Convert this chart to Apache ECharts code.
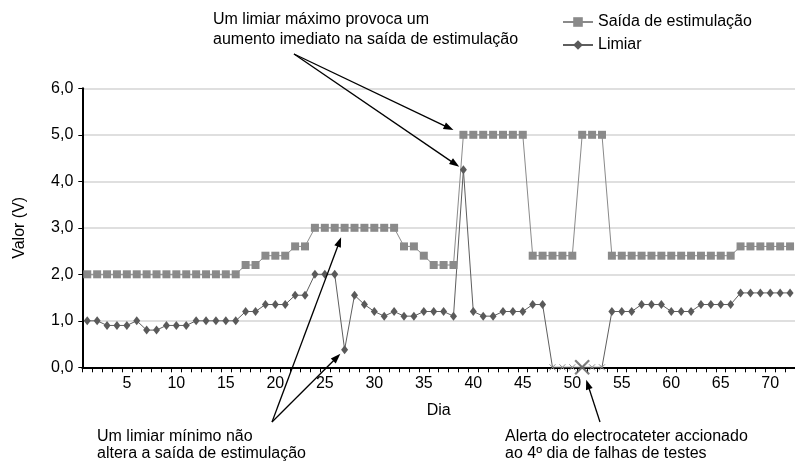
<!DOCTYPE html>
<html>
<head>
<meta charset="utf-8">
<script src="https://cdn.jsdelivr.net/npm/echarts@6/dist/echarts.min.js"></script>
<style>
  html, body { margin: 0; padding: 0; background: #ffffff; }
  #chart { width: 795px; height: 461px; }
</style>
</head>
<body>
<div id="chart"></div>
<script>
// Days of monitoring (category axis)
const days = ['1','2','3','4','5','6','7','8','9','10','11','12','13','14','15','16','17','18','19','20',
  '21','22','23','24','25','26','27','28','29','30','31','32','33','34','35','36','37','38','39','40',
  '41','42','43','44','45','46','47','48','49','50','51','52','53','54','55','56','57','58','59','60',
  '61','62','63','64','65','66','67','68','69','70','71','72'];

// Stimulation output (V)
const saida = [2.0,2.0,2.0,2.0,2.0,2.0,2.0,2.0,2.0,2.0,2.0,2.0,2.0,2.0,2.0,2.0,2.2,2.2,2.4,2.4,
  2.4,2.6,2.6,3.0,3.0,3.0,3.0,3.0,3.0,3.0,3.0,3.0,2.6,2.6,2.4,2.2,2.2,2.2,5.0,5.0,
  5.0,5.0,5.0,5.0,5.0,2.4,2.4,2.4,2.4,2.4,5.0,5.0,5.0,2.4,2.4,2.4,2.4,2.4,2.4,2.4,
  2.4,2.4,2.4,2.4,2.4,2.4,2.6,2.6,2.6,2.6,2.6,2.6];

// Capture threshold (V); 0 marks a failed test day
const limiar = [1.0,1.0,0.9,0.9,0.9,1.0,0.8,0.8,0.9,0.9,0.9,1.0,1.0,1.0,1.0,1.0,1.2,1.2,1.35,1.35,
  1.35,1.55,1.55,2.0,2.0,2.0,0.38,1.55,1.35,1.2,1.1,1.2,1.1,1.1,1.2,1.2,1.2,1.1,4.25,1.2,
  1.1,1.1,1.2,1.2,1.2,1.35,1.35,0,0,0,0,0,0,1.2,1.2,1.2,1.35,1.35,1.35,1.2,
  1.2,1.2,1.35,1.35,1.35,1.35,1.6,1.6,1.6,1.6,1.6,1.6];

// Day on which the lead alert fired
const alertDay = '51';
const alertValue = 0;

const yTickLabels = ['0,0','1,0','2,0','3,0','4,0','5,0','6,0'];

const FONT = '"Liberation Sans", Arial, Helvetica, sans-serif';
const xPath = 'path://M0,0L10,10M10,0L0,10';

const limiarData = limiar.map(v => v === 0
  ? { value: v, symbol: xPath, symbolSize: 6,
      itemStyle: { color: 'none', borderColor: '#8c8c8c', borderWidth: 1 } }
  : v);

const chart = echarts.init(document.getElementById('chart'), null, { renderer: 'canvas' });

chart.setOption({
  animation: false,
  backgroundColor: '#ffffff',
  textStyle: { fontFamily: FONT },
  grid: { left: 82.3, top: 88.3, height: 279, width: 715.7, containLabel: false },
  legend: {
    orient: 'vertical',
    left: 557, top: 9,
    itemWidth: 30, itemHeight: 12, itemGap: 7,
    data: ['Saída de estimulação', 'Limiar'],
    textStyle: { fontFamily: FONT, fontSize: 16, color: '#000' }
  },
  xAxis: {
    type: 'category',
    data: days,
    boundaryGap: true,
    name: 'Dia',
    nameLocation: 'middle',
    nameGap: 35,
    nameTextStyle: { fontFamily: FONT, fontSize: 16, color: '#000' },
    axisLine: { lineStyle: { color: '#000', width: 2 } },
    axisTick: { show: true, interval: 0, length: 5, lineStyle: { color: '#000', width: 1 } },
    axisLabel: {
      interval: (idx) => (idx + 1) % 5 === 0,
      margin: 8,
      fontFamily: FONT, fontSize: 16, color: '#000'
    },
    splitLine: { show: false }
  },
  yAxis: {
    type: 'value',
    min: 0, max: 6, interval: 1,
    name: 'Valor (V)',
    nameLocation: 'middle',
    nameGap: 55,
    nameTextStyle: { fontFamily: FONT, fontSize: 16, color: '#000' },
    axisLine: { show: true, lineStyle: { color: '#000', width: 2 } },
    axisTick: { show: true, length: 4, lineStyle: { color: '#000', width: 1 } },
    axisLabel: {
      margin: 9,
      fontFamily: FONT, fontSize: 16, color: '#000',
      formatter: (v) => yTickLabels[Math.round(v)]
    },
    splitLine: { show: true, lineStyle: { color: '#d4d4d4', width: 1.5 } }
  },
  series: [
    {
      name: 'Saída de estimulação',
      type: 'line',
      data: saida,
      symbol: 'rect',
      symbolSize: 8,
      showAllSymbol: true,
      clip: false,
      lineStyle: { color: '#8a8a8a', width: 1 },
      itemStyle: { color: '#8a8a8a' }
    },
    {
      name: 'Limiar',
      type: 'line',
      data: limiarData,
      symbol: 'diamond',
      symbolSize: [7, 9],
      showAllSymbol: true,
      clip: false,
      lineStyle: { color: '#5e5e5e', width: 1 },
      itemStyle: { color: '#5a5a5a' }
    },
    {
      name: 'Alerta',
      type: 'scatter',
      data: [[alertDay, alertValue]],
      symbol: xPath,
      symbolSize: 14,
      clip: false,
      z: 5,
      itemStyle: { color: 'none', borderColor: '#5f5f5f', borderWidth: 2.2 }
    }
  ]
});

// Annotation arrows, aimed at the points they describe
function px(day, val) {
  return chart.convertToPixel({ gridIndex: 0 }, [day, val]);
}
function arrow(start, target, shortBy) {
  const dx = target[0] - start[0], dy = target[1] - start[1];
  const len = Math.sqrt(dx * dx + dy * dy);
  const ux = dx / len, uy = dy / len;
  const tip = [target[0] - ux * shortBy, target[1] - uy * shortBy];
  const head = 10, half = 3.5;
  const base = [tip[0] - ux * head, tip[1] - uy * head];
  const nx = -uy, ny = ux;
  return [
    { type: 'line', z: 10, silent: true,
      shape: { x1: start[0], y1: start[1], x2: base[0] + ux * 2, y2: base[1] + uy * 2 },
      style: { stroke: '#000', lineWidth: 1.3 } },
    { type: 'polygon', z: 10, silent: true,
      shape: { points: [tip, [base[0] + nx * half, base[1] + ny * half], [base[0] - nx * half, base[1] - ny * half]] },
      style: { fill: '#000' } }
  ];
}
function label(text, x, y) {
  return { type: 'text', z: 10, silent: true,
    style: { text: text, x: x, y: y, font: '16px ' + FONT, fill: '#000',
             textAlign: 'left', textVerticalAlign: 'middle' } };
}

const maxIdx = limiar.indexOf(Math.max.apply(null, limiar));
const maxDay = days[maxIdx];
const minIdx = 26;
const minDay = days[minIdx];

const elements = [].concat(
  arrow([294, 54], px(maxDay, saida[maxIdx]), 11),
  arrow([294, 54], px(maxDay, limiar[maxIdx]), 5),
  arrow([272, 422], px(minDay, saida[minIdx]), 10),
  arrow([272, 422], px(minDay, limiar[minIdx]), 6),
  arrow([600, 422], px(alertDay, alertValue), 13),
  [
    label('Um limiar máximo provoca um', 213, 20),
    label('aumento imediato na saída de estimulação', 213, 40),
    label('Um limiar mínimo não', 97, 437),
    label('altera a saída de estimulação', 97, 454),
    label('Alerta do electrocateter accionado', 505, 437),
    label('ao 4º dia de falhas de testes', 505, 454)
  ]
);

chart.setOption({ graphic: { elements: elements } });
</script>
</body>
</html>
